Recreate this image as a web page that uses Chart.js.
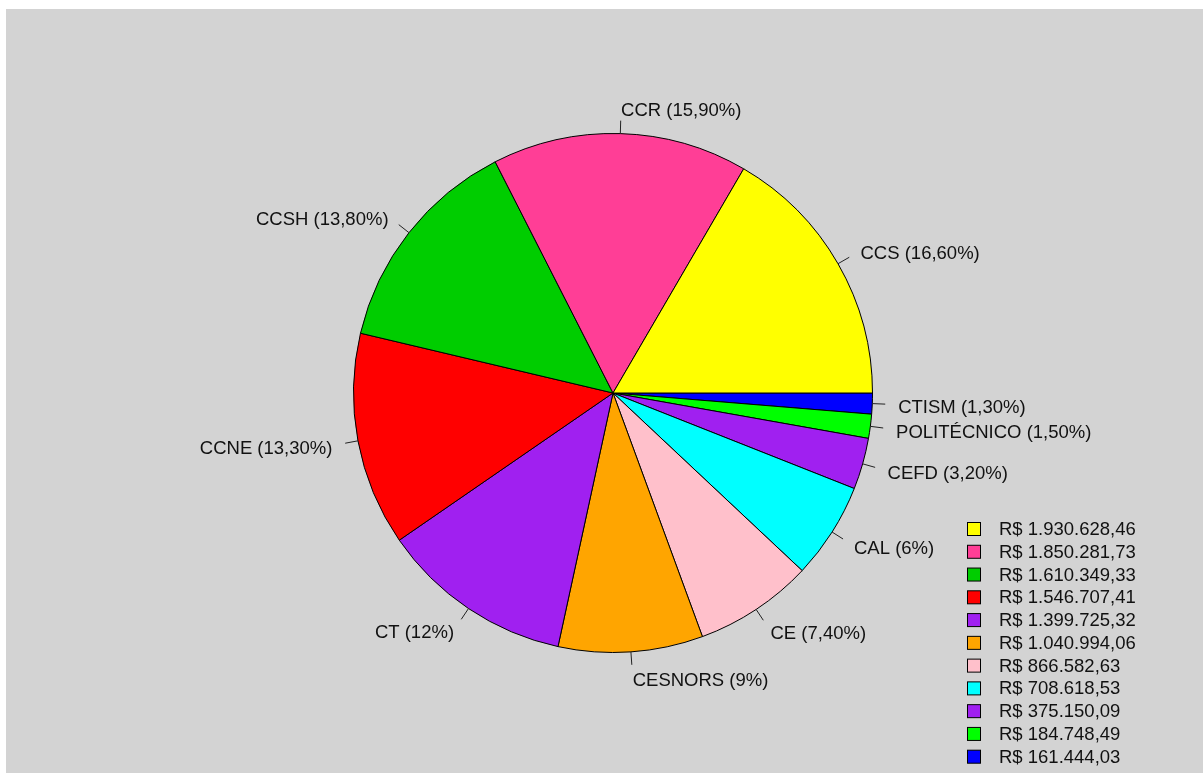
<!DOCTYPE html>
<html>
<head>
<meta charset="utf-8">
<script src="https://cdn.jsdelivr.net/npm/chart.js@4/dist/chart.umd.min.js"></script>
<style>
  html, body { margin: 0; padding: 0; background: #ffffff; }
  #wrap { width: 1203px; height: 773px; position: relative; }
</style>
</head>
<body>
<div id="wrap"><canvas id="c" width="1203" height="773"></canvas></div>
<script>
// Data (legend order, counter-clockwise from 3 o'clock in the reference)
const categories = ["CCS", "CCR", "CCSH", "CCNE", "CT", "CESNORS", "CE", "CAL", "CEFD", "POLITÉCNICO", "CTISM"];
const percents = [16.6, 15.9, 13.8, 13.3, 12, 9, 7.4, 6, 3.2, 1.5, 1.3];
const percentLabels = ["16,60%", "15,90%", "13,80%", "13,30%", "12%", "9%", "7,40%", "6%", "3,20%", "1,50%", "1,30%"];
const amounts = [1930628.46, 1850281.73, 1610349.33, 1546707.41, 1399725.32, 1040994.06, 866582.63, 708618.53, 375150.09, 184748.49, 161444.03];
const legendTexts = ["R$ 1.930.628,46", "R$ 1.850.281,73", "R$ 1.610.349,33", "R$ 1.546.707,41", "R$ 1.399.725,32", "R$ 1.040.994,06", "R$ 866.582,63", "R$ 708.618,53", "R$ 375.150,09", "R$ 184.748,49", "R$ 161.444,03"];
const colors = ["#FFFF00", "#FF3E96", "#00CD00", "#FF0000", "#A020F0", "#FFA500", "#FFC0CB", "#00FFFF", "#A020F0", "#00FF00", "#0000FF"];

const FONT = '18.5px "Liberation Sans", Arial, sans-serif';

// Chart.js draws clockwise, the reference goes counter-clockwise: reverse
const rev = a => a.slice().reverse();
const dLabels = rev(categories).map((c, i) => c + " (" + rev(percentLabels)[i] + ")");

const bgPlugin = {
  id: 'bg',
  beforeDraw(chart) {
    const ctx = chart.ctx;
    ctx.save();
    ctx.fillStyle = '#ffffff';
    ctx.fillRect(0, 0, chart.width, chart.height);
    ctx.fillStyle = '#D3D3D3';
    ctx.fillRect(6, 9, chart.width - 6, chart.height - 9);
    ctx.restore();
  }
};

const labelPlugin = {
  id: 'pieLabels',
  afterDraw(chart) {
    const ctx = chart.ctx;
    const meta = chart.getDatasetMeta(0);
    ctx.save();
    ctx.font = FONT;
    ctx.fillStyle = '#111';
    ctx.strokeStyle = '#222';
    ctx.lineWidth = 1;
    ctx.textBaseline = 'middle';
    meta.data.forEach((arc, i) => {
      const p = arc.getProps(['x', 'y', 'startAngle', 'endAngle', 'outerRadius'], true);
      const a = (p.startAngle + p.endAngle) / 2;
      const r = p.outerRadius;
      const cx = Math.cos(a), cy = Math.sin(a);
      ctx.beginPath();
      ctx.moveTo(p.x + cx * r, p.y + cy * r);
      ctx.lineTo(p.x + cx * r * 1.05, p.y + cy * r * 1.05);
      ctx.stroke();
      ctx.textAlign = cx < 0 ? 'right' : 'left';
      ctx.fillText(chart.data.labels[i], p.x + cx * r * 1.1, p.y + cy * r * 1.1 + 3);
    });
    // legend (bottom right)
    const lx = 967, ly0 = 529, step = 22.77;
    legendTexts.forEach((t, i) => {
      const y = ly0 + i * step;
      ctx.fillStyle = colors[i];
      ctx.fillRect(lx + 0.5, y - 6.5, 13, 13);
      ctx.strokeStyle = '#000';
      ctx.strokeRect(lx + 0.5, y - 6.5, 13, 13);
      ctx.fillStyle = '#111';
      ctx.textAlign = 'left';
      ctx.fillText(t, 999, y + 1);
    });
    ctx.restore();
  }
};

new Chart(document.getElementById('c'), {
  type: 'pie',
  data: {
    labels: dLabels,
    datasets: [{
      data: rev(percents),
      backgroundColor: rev(colors),
      borderColor: '#000000',
      borderWidth: 1,
      hoverOffset: 0,
      offset: 0
    }]
  },
  options: {
    responsive: false,
    animation: false,
    rotation: 90,
    layout: { padding: { left: 353, top: 133, right: 330, bottom: 120 } },
    plugins: {
      legend: { display: false },
      tooltip: { enabled: false }
    },
    events: []
  },
  plugins: [bgPlugin, labelPlugin]
});
</script>
</body>
</html>
